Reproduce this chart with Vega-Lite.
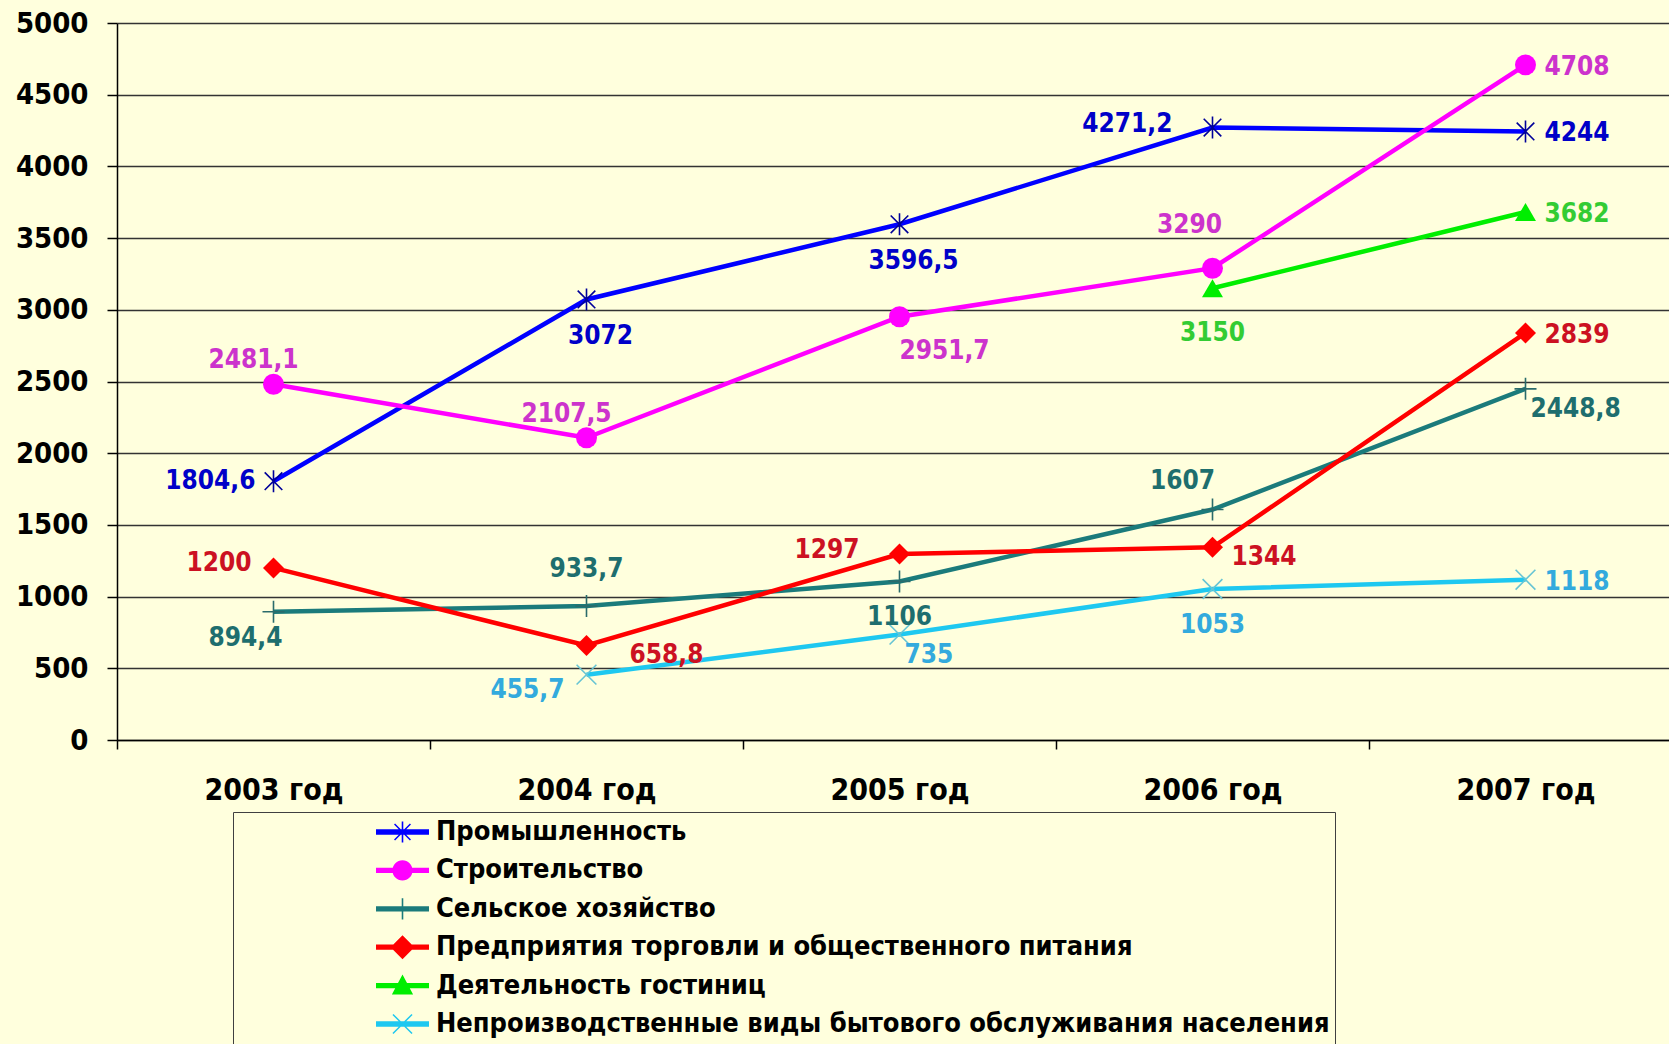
{
  "$schema": "https://vega.github.io/schema/vega-lite/v6.json",
  "width": 1552,
  "height": 717,
  "autosize": {"type": "none"},
  "padding": {"left": 117, "top": 23, "right": 0, "bottom": 304},
  "background": "#FFFFDD",
  "config": {
    "view": {"stroke": null},
    "font": "DejaVu Sans Condensed, Liberation Sans",
    "locale": {"number": {"decimal": ",", "thousands": " ", "grouping": [3], "currency": ["", ""]}},
    "text": {"font": "DejaVu Sans Condensed, Liberation Sans", "fontSize": 26, "fontWeight": "bold", "baseline": "middle"}
  },
  "data": {
    "values": [
      {"id": "A3", "s": "Промышленность", "year": "2003 год", "v": 1804.6},
      {"id": "A4", "s": "Промышленность", "year": "2004 год", "v": 3072},
      {"id": "A5", "s": "Промышленность", "year": "2005 год", "v": 3596.5},
      {"id": "A6", "s": "Промышленность", "year": "2006 год", "v": 4271.2},
      {"id": "A7", "s": "Промышленность", "year": "2007 год", "v": 4244},
      {"id": "B3", "s": "Строительство", "year": "2003 год", "v": 2481.1},
      {"id": "B4", "s": "Строительство", "year": "2004 год", "v": 2107.5},
      {"id": "B5", "s": "Строительство", "year": "2005 год", "v": 2951.7},
      {"id": "B6", "s": "Строительство", "year": "2006 год", "v": 3290},
      {"id": "B7", "s": "Строительство", "year": "2007 год", "v": 4708},
      {"id": "C3", "s": "Сельское хозяйство", "year": "2003 год", "v": 894.4},
      {"id": "C4", "s": "Сельское хозяйство", "year": "2004 год", "v": 933.7},
      {"id": "C5", "s": "Сельское хозяйство", "year": "2005 год", "v": 1106},
      {"id": "C6", "s": "Сельское хозяйство", "year": "2006 год", "v": 1607},
      {"id": "C7", "s": "Сельское хозяйство", "year": "2007 год", "v": 2448.8},
      {"id": "D3", "s": "Предприятия торговли и общественного питания", "year": "2003 год", "v": 1200},
      {"id": "D4", "s": "Предприятия торговли и общественного питания", "year": "2004 год", "v": 658.8},
      {"id": "D5", "s": "Предприятия торговли и общественного питания", "year": "2005 год", "v": 1297},
      {"id": "D6", "s": "Предприятия торговли и общественного питания", "year": "2006 год", "v": 1344},
      {"id": "D7", "s": "Предприятия торговли и общественного питания", "year": "2007 год", "v": 2839},
      {"id": "E6", "s": "Деятельность гостиниц", "year": "2006 год", "v": 3150},
      {"id": "E7", "s": "Деятельность гостиниц", "year": "2007 год", "v": 3682},
      {"id": "F4", "s": "Непроизводственные виды бытового обслуживания населения", "year": "2004 год", "v": 455.7},
      {"id": "F5", "s": "Непроизводственные виды бытового обслуживания населения", "year": "2005 год", "v": 735},
      {"id": "F6", "s": "Непроизводственные виды бытового обслуживания населения", "year": "2006 год", "v": 1053},
      {"id": "F7", "s": "Непроизводственные виды бытового обслуживания населения", "year": "2007 год", "v": 1118}
    ]
  },
  "encoding": {
    "x": {
      "field": "year", "type": "nominal",
      "sort": ["2003 год", "2004 год", "2005 год", "2006 год", "2007 год"],
      "scale": {"type": "band", "range": [0, 1565], "paddingInner": 0, "paddingOuter": 0},
      "axis": {
        "title": null, "grid": false, "domain": true, "domainColor": "#000000", "domainWidth": 1.5,
        "ticks": true, "tickBand": "extent", "tickSize": 9, "tickColor": "#000000", "tickWidth": 1.5,
        "labelFont": "DejaVu Sans Condensed, Liberation Sans", "labelFontSize": 30, "labelFontWeight": "bold", "labelColor": "#000000",
        "labelPadding": 26, "labelAngle": 0, "labelFlush": false, "labelOverlap": false
      }
    },
    "y": {
      "field": "v", "type": "quantitative",
      "scale": {"domain": [0, 5000], "nice": false, "zero": true},
      "axis": {
        "title": null, "values": [0, 500, 1000, 1500, 2000, 2500, 3000, 3500, 4000, 4500, 5000], "format": "d",
        "grid": true, "gridColor": "#333333", "gridWidth": 1.5, "gridOpacity": 1,
        "domain": true, "domainColor": "#000000", "domainWidth": 1.5,
        "ticks": true, "tickSize": 10, "tickColor": "#000000", "tickWidth": 1.5,
        "labelFont": "DejaVu Sans Condensed, Liberation Sans", "labelFontSize": 29, "labelFontWeight": "bold", "labelColor": "#000000",
        "labelPadding": 19
      }
    }
  },
  "layer": [
    {
      "mark": {"type": "line", "strokeWidth": 4.5},
      "encoding": {
        "color": {"field": "s", "type": "nominal", "legend": null,
          "scale": {"domain": ["Промышленность", "Строительство", "Сельское хозяйство", "Предприятия торговли и общественного питания", "Деятельность гостиниц", "Непроизводственные виды бытового обслуживания населения"],
            "range": ["#0000FF", "#FF00FF", "#1B7B7B", "#FF0000", "#00EE00", "#1EC8F0"]}}
      }
    },
    {
      "transform": [{"filter": {"field": "s", "oneOf": ["Строительство", "Предприятия торговли и общественного питания", "Деятельность гостиниц"]}}],
      "mark": {"type": "point", "filled": true, "size": 440, "opacity": 1},
      "encoding": {
        "color": {"field": "s", "type": "nominal", "legend": null,
          "scale": {"domain": ["Строительство", "Предприятия торговли и общественного питания", "Деятельность гостиниц"], "range": ["#FF00FF", "#FF0000", "#00EE00"]}},
        "shape": {"field": "s", "type": "nominal", "legend": null,
          "scale": {"domain": ["Строительство", "Предприятия торговли и общественного питания", "Деятельность гостиниц"], "range": ["circle", "diamond", "triangle-up"]}}
      }
    },
    {
      "transform": [{"filter": {"field": "s", "oneOf": ["Промышленность", "Сельское хозяйство", "Непроизводственные виды бытового обслуживания населения"]}}],
      "mark": {"type": "point", "filled": false, "size": 484, "strokeWidth": 1.6, "opacity": 1},
      "encoding": {
        "color": {"field": "s", "type": "nominal", "legend": null,
          "scale": {"domain": ["Промышленность", "Сельское хозяйство", "Непроизводственные виды бытового обслуживания населения"], "range": ["#000099", "#2A6B6B", "#66C4D4"]}},
        "shape": {"field": "s", "type": "nominal", "legend": null,
          "scale": {"domain": ["Промышленность", "Сельское хозяйство", "Непроизводственные виды бытового обслуживания населения"],
            "range": ["M0,-1V1M-0.8,-0.8L0.8,0.8M-0.8,0.8L0.8,-0.8", "M0,-1V1M-1,0H1", "M-0.9,-0.9L0.9,0.9M-0.9,0.9L0.9,-0.9"]}}
      }
    },
    {
      "transform": [{"filter": "false"}],
      "mark": {"type": "point", "filled": true, "size": 2809, "opacity": 1},
      "encoding": {
        "color": {"field": "s", "type": "nominal",
          "scale": {"domain": ["Промышленность", "Строительство", "Сельское хозяйство", "Предприятия торговли и общественного питания", "Деятельность гостиниц", "Непроизводственные виды бытового обслуживания населения"],
            "range": ["#0000FF", "#FF00FF", "#1B7B7B", "#FF0000", "#00EE00", "#1EC8F0"]},
          "legend": {"title": null, "orient": "none", "legendX": 116, "legendY": 789, "padding": 5,
            "strokeColor": "#404040", "symbolSize": 2809, "symbolStrokeWidth": 0, "symbolOffset": 138, "labelOffset": 7,
            "clipHeight": 30, "rowPadding": 8.4, "labelFont": "DejaVu Sans Condensed, Liberation Sans", "labelFontSize": 27, "labelFontWeight": "bold",
            "labelColor": "#000000", "labelLimit": 2000, "symbolOpacity": 1}},
        "shape": {"field": "s", "type": "nominal",
          "scale": {"domain": ["Промышленность", "Строительство", "Сельское хозяйство", "Предприятия торговли и общественного питания", "Деятельность гостиниц", "Непроизводственные виды бытового обслуживания населения"],
            "range": [
              "M-1,-0.1H1V0.1H-1Z M-0.03,-0.4H0.03V0.4H-0.03Z M-0.28,-0.32L0.32,0.28L0.28,0.32L-0.32,-0.28Z M-0.32,0.28L0.28,-0.32L0.32,-0.28L-0.28,0.32Z",
              "M-1,-0.1H1V0.1H-1Z M0.38,0A0.38,0.38 0 1,1 -0.38,0A0.38,0.38 0 1,1 0.38,0Z",
              "M-1,-0.1H1V0.1H-1Z M-0.03,-0.4H0.03V0.4H-0.03Z",
              "M-1,-0.1H1V0.1H-1Z M0,-0.45L0.45,0L0,0.45L-0.45,0Z",
              "M-1,-0.1H1V0.1H-1Z M0,-0.42L0.4,0.34L-0.4,0.34Z",
              "M-1,-0.1H1V0.1H-1Z M-0.34,-0.38L0.38,0.34L0.34,0.38L-0.38,-0.34Z M-0.38,0.34L0.34,-0.38L0.38,-0.34L-0.34,0.38Z"
            ]},
          "legend": {"title": null, "orient": "none", "legendX": 116, "legendY": 789, "padding": 5,
            "strokeColor": "#404040", "symbolSize": 2809, "symbolStrokeWidth": 0, "symbolOffset": 138, "labelOffset": 7,
            "clipHeight": 30, "rowPadding": 8.4, "labelFont": "DejaVu Sans Condensed, Liberation Sans", "labelFontSize": 27, "labelFontWeight": "bold",
            "labelColor": "#000000", "labelLimit": 2000, "symbolOpacity": 1}}
      }
    },
    {
      "transform": [{"filter": {"field": "id", "oneOf": ["A7", "B7", "D7", "E7", "F7"]}}],
      "mark": {"type": "text", "align": "left", "dx": 19, "dy": 2},
      "encoding": {"text": {"field": "v", "type": "quantitative", "format": ".1~f"},
        "color": {"field": "s", "type": "nominal", "legend": null, "scale": {"domain": ["Промышленность", "Строительство", "Сельское хозяйство", "Предприятия торговли и общественного питания", "Деятельность гостиниц", "Непроизводственные виды бытового обслуживания населения"], "range": ["#0000C8", "#CC33CC", "#1E6E6E", "#CC1122", "#33CC33", "#33AADD"]}}}
    },
    {
      "transform": [{"filter": {"field": "id", "oneOf": ["D6"]}}],
      "mark": {"type": "text", "align": "left", "dx": 19, "dy": 10},
      "encoding": {"text": {"field": "v", "type": "quantitative", "format": ".1~f"},
        "color": {"field": "s", "type": "nominal", "legend": null, "scale": {"domain": ["Промышленность", "Строительство", "Сельское хозяйство", "Предприятия торговли и общественного питания", "Деятельность гостиниц", "Непроизводственные виды бытового обслуживания населения"], "range": ["#0000C8", "#CC33CC", "#1E6E6E", "#CC1122", "#33CC33", "#33AADD"]}}}
    },
    {
      "transform": [{"filter": {"field": "id", "oneOf": ["C7", "F5"]}}],
      "mark": {"type": "text", "align": "left", "dx": 5, "dy": 20},
      "encoding": {"text": {"field": "v", "type": "quantitative", "format": ".1~f"},
        "color": {"field": "s", "type": "nominal", "legend": null, "scale": {"domain": ["Промышленность", "Строительство", "Сельское хозяйство", "Предприятия торговли и общественного питания", "Деятельность гостиниц", "Непроизводственные виды бытового обслуживания населения"], "range": ["#0000C8", "#CC33CC", "#1E6E6E", "#CC1122", "#33CC33", "#33AADD"]}}}
    },
    {
      "transform": [{"filter": {"field": "id", "oneOf": ["D4"]}}],
      "mark": {"type": "text", "align": "left", "dx": 43, "dy": 9},
      "encoding": {"text": {"field": "v", "type": "quantitative", "format": ".1~f"},
        "color": {"field": "s", "type": "nominal", "legend": null, "scale": {"domain": ["Промышленность", "Строительство", "Сельское хозяйство", "Предприятия торговли и общественного питания", "Деятельность гостиниц", "Непроизводственные виды бытового обслуживания населения"], "range": ["#0000C8", "#CC33CC", "#1E6E6E", "#CC1122", "#33CC33", "#33AADD"]}}}
    },
    {
      "transform": [{"filter": {"field": "id", "oneOf": ["A3"]}}],
      "mark": {"type": "text", "align": "right", "dx": -18, "dy": 0},
      "encoding": {"text": {"field": "v", "type": "quantitative", "format": ".1~f"},
        "color": {"field": "s", "type": "nominal", "legend": null, "scale": {"domain": ["Промышленность", "Строительство", "Сельское хозяйство", "Предприятия торговли и общественного питания", "Деятельность гостиниц", "Непроизводственные виды бытового обслуживания населения"], "range": ["#0000C8", "#CC33CC", "#1E6E6E", "#CC1122", "#33CC33", "#33AADD"]}}}
    },
    {
      "transform": [{"filter": {"field": "id", "oneOf": ["D3"]}}],
      "mark": {"type": "text", "align": "right", "dx": -22, "dy": -5},
      "encoding": {"text": {"field": "v", "type": "quantitative", "format": ".1~f"},
        "color": {"field": "s", "type": "nominal", "legend": null, "scale": {"domain": ["Промышленность", "Строительство", "Сельское хозяйство", "Предприятия торговли и общественного питания", "Деятельность гостиниц", "Непроизводственные виды бытового обслуживания населения"], "range": ["#0000C8", "#CC33CC", "#1E6E6E", "#CC1122", "#33CC33", "#33AADD"]}}}
    },
    {
      "transform": [{"filter": {"field": "id", "oneOf": ["F4"]}}],
      "mark": {"type": "text", "align": "right", "dx": -22, "dy": 15},
      "encoding": {"text": {"field": "v", "type": "quantitative", "format": ".1~f"},
        "color": {"field": "s", "type": "nominal", "legend": null, "scale": {"domain": ["Промышленность", "Строительство", "Сельское хозяйство", "Предприятия торговли и общественного питания", "Деятельность гостиниц", "Непроизводственные виды бытового обслуживания населения"], "range": ["#0000C8", "#CC33CC", "#1E6E6E", "#CC1122", "#33CC33", "#33AADD"]}}}
    },
    {
      "transform": [{"filter": {"field": "id", "oneOf": ["A6", "D5"]}}],
      "mark": {"type": "text", "align": "right", "dx": -40, "dy": -4},
      "encoding": {"text": {"field": "v", "type": "quantitative", "format": ".1~f"},
        "color": {"field": "s", "type": "nominal", "legend": null, "scale": {"domain": ["Промышленность", "Строительство", "Сельское хозяйство", "Предприятия торговли и общественного питания", "Деятельность гостиниц", "Непроизводственные виды бытового обслуживания населения"], "range": ["#0000C8", "#CC33CC", "#1E6E6E", "#CC1122", "#33CC33", "#33AADD"]}}}
    },
    {
      "transform": [{"filter": {"field": "id", "oneOf": ["A4", "A5"]}}],
      "mark": {"type": "text", "align": "center", "dx": 14, "dy": 37},
      "encoding": {"text": {"field": "v", "type": "quantitative", "format": ".1~f"},
        "color": {"field": "s", "type": "nominal", "legend": null, "scale": {"domain": ["Промышленность", "Строительство", "Сельское хозяйство", "Предприятия торговли и общественного питания", "Деятельность гостиниц", "Непроизводственные виды бытового обслуживания населения"], "range": ["#0000C8", "#CC33CC", "#1E6E6E", "#CC1122", "#33CC33", "#33AADD"]}}}
    },
    {
      "transform": [{"filter": {"field": "id", "oneOf": ["C5", "F6"]}}],
      "mark": {"type": "text", "align": "center", "dx": 0, "dy": 36},
      "encoding": {"text": {"field": "v", "type": "quantitative", "format": ".1~f"},
        "color": {"field": "s", "type": "nominal", "legend": null, "scale": {"domain": ["Промышленность", "Строительство", "Сельское хозяйство", "Предприятия торговли и общественного питания", "Деятельность гостиниц", "Непроизводственные виды бытового обслуживания населения"], "range": ["#0000C8", "#CC33CC", "#1E6E6E", "#CC1122", "#33CC33", "#33AADD"]}}}
    },
    {
      "transform": [{"filter": {"field": "id", "oneOf": ["B5"]}}],
      "mark": {"type": "text", "align": "center", "dx": 45, "dy": 34},
      "encoding": {"text": {"field": "v", "type": "quantitative", "format": ".1~f"},
        "color": {"field": "s", "type": "nominal", "legend": null, "scale": {"domain": ["Промышленность", "Строительство", "Сельское хозяйство", "Предприятия торговли и общественного питания", "Деятельность гостиниц", "Непроизводственные виды бытового обслуживания населения"], "range": ["#0000C8", "#CC33CC", "#1E6E6E", "#CC1122", "#33CC33", "#33AADD"]}}}
    },
    {
      "transform": [{"filter": {"field": "id", "oneOf": ["E6"]}}],
      "mark": {"type": "text", "align": "center", "dx": 0, "dy": 45},
      "encoding": {"text": {"field": "v", "type": "quantitative", "format": ".1~f"},
        "color": {"field": "s", "type": "nominal", "legend": null, "scale": {"domain": ["Промышленность", "Строительство", "Сельское хозяйство", "Предприятия торговли и общественного питания", "Деятельность гостиниц", "Непроизводственные виды бытового обслуживания населения"], "range": ["#0000C8", "#CC33CC", "#1E6E6E", "#CC1122", "#33CC33", "#33AADD"]}}}
    },
    {
      "transform": [{"filter": {"field": "id", "oneOf": ["B3", "B4"]}}],
      "mark": {"type": "text", "align": "center", "dx": -20, "dy": -24},
      "encoding": {"text": {"field": "v", "type": "quantitative", "format": ".1~f"},
        "color": {"field": "s", "type": "nominal", "legend": null, "scale": {"domain": ["Промышленность", "Строительство", "Сельское хозяйство", "Предприятия торговли и общественного питания", "Деятельность гостиниц", "Непроизводственные виды бытового обслуживания населения"], "range": ["#0000C8", "#CC33CC", "#1E6E6E", "#CC1122", "#33CC33", "#33AADD"]}}}
    },
    {
      "transform": [{"filter": {"field": "id", "oneOf": ["B6"]}}],
      "mark": {"type": "text", "align": "center", "dx": -23, "dy": -43},
      "encoding": {"text": {"field": "v", "type": "quantitative", "format": ".1~f"},
        "color": {"field": "s", "type": "nominal", "legend": null, "scale": {"domain": ["Промышленность", "Строительство", "Сельское хозяйство", "Предприятия торговли и общественного питания", "Деятельность гостиниц", "Непроизводственные виды бытового обслуживания населения"], "range": ["#0000C8", "#CC33CC", "#1E6E6E", "#CC1122", "#33CC33", "#33AADD"]}}}
    },
    {
      "transform": [{"filter": {"field": "id", "oneOf": ["C4"]}}],
      "mark": {"type": "text", "align": "center", "dx": 0, "dy": -37},
      "encoding": {"text": {"field": "v", "type": "quantitative", "format": ".1~f"},
        "color": {"field": "s", "type": "nominal", "legend": null, "scale": {"domain": ["Промышленность", "Строительство", "Сельское хозяйство", "Предприятия торговли и общественного питания", "Деятельность гостиниц", "Непроизводственные виды бытового обслуживания населения"], "range": ["#0000C8", "#CC33CC", "#1E6E6E", "#CC1122", "#33CC33", "#33AADD"]}}}
    },
    {
      "transform": [{"filter": {"field": "id", "oneOf": ["C6"]}}],
      "mark": {"type": "text", "align": "center", "dx": -30, "dy": -29},
      "encoding": {"text": {"field": "v", "type": "quantitative", "format": ".1~f"},
        "color": {"field": "s", "type": "nominal", "legend": null, "scale": {"domain": ["Промышленность", "Строительство", "Сельское хозяйство", "Предприятия торговли и общественного питания", "Деятельность гостиниц", "Непроизводственные виды бытового обслуживания населения"], "range": ["#0000C8", "#CC33CC", "#1E6E6E", "#CC1122", "#33CC33", "#33AADD"]}}}
    },
    {
      "transform": [{"filter": {"field": "id", "oneOf": ["C3"]}}],
      "mark": {"type": "text", "align": "center", "dx": -28, "dy": 26},
      "encoding": {"text": {"field": "v", "type": "quantitative", "format": ".1~f"},
        "color": {"field": "s", "type": "nominal", "legend": null, "scale": {"domain": ["Промышленность", "Строительство", "Сельское хозяйство", "Предприятия торговли и общественного питания", "Деятельность гостиниц", "Непроизводственные виды бытового обслуживания населения"], "range": ["#0000C8", "#CC33CC", "#1E6E6E", "#CC1122", "#33CC33", "#33AADD"]}}}
    }
  ],
  "resolve": {"scale": {"color": "independent", "shape": "independent"}}
}
